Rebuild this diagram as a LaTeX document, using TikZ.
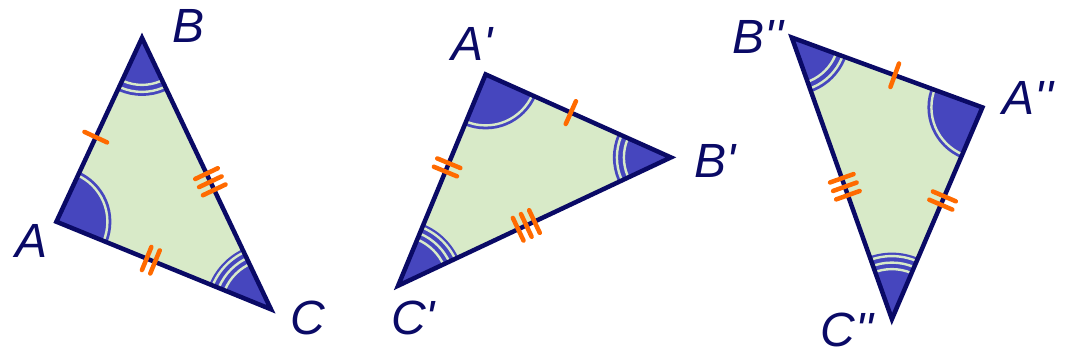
\documentclass[tikz,border=0pt]{standalone}
\usepackage{fontspec}
\newfontfamily\labfont{Liberation Sans}
\usetikzlibrary{calc}
\definecolor{navy}{HTML}{0A0A66}
\definecolor{mblue}{HTML}{4646BE}
\definecolor{lgreen}{HTML}{D8EAC8}
\definecolor{tickor}{HTML}{FF6A00}
\tikzset{
  tri/.style={draw=navy,line width=4.5pt,line join=miter},
  gapline/.style={draw=lgreen,line width=2.4pt},
  tickmark/.style={draw=tickor,line width=4.5pt,line cap=round},
  lab/.style={text=navy,font=\labfont\itshape\fontsize{48}{48}\selectfont,inner sep=0pt},
}
\newcommand\angmark[3]{%
  \fill[mblue] (#1) circle[radius=#2];
  \foreach \rr in {#3} {\draw[gapline] (#1) circle[radius=\rr];}
}
\newcommand\sidetick[4]{%
  \coordinate (tm) at ($(#1)!#3!(#2)$);
  \foreach \k in {1,...,#4} {
    \pgfmathsetmacro\off{(\k-1-(#4-1)/2)*9}
    \coordinate (tk) at ($(tm)!\off pt!(#2)$);
    \draw[tickmark] ($(tk)!12.5pt!90:(#2)$) -- ($(tk)!12.5pt!-90:(#2)$);
  }
}
\newcommand\mytriangle[3]{%
  \begin{scope}
    \clip (#1) -- (#2) -- (#3) -- cycle;
    \fill[lgreen] (#1) -- (#2) -- (#3) -- cycle;
    \angmark{#1}{55}{51}
    \angmark{#2}{58}{47,54}
    \angmark{#3}{66.5}{50,56.5,63}
  \end{scope}
  \draw[tri] (#1) -- (#2) -- (#3) -- cycle;
  \sidetick{#1}{#2}{0.46}{1}
  \sidetick{#1}{#3}{0.44}{2}
  \sidetick{#2}{#3}{0.53}{3}
}
\begin{document}
\begin{tikzpicture}[x=1pt,y=-1pt]
\useasboundingbox (0,0) rectangle (1065,356);
% triangle 1
\coordinate (A1) at (56.4,221.7);
\coordinate (B1) at (142,37.9);
\coordinate (C1) at (271,309.3);
% triangle 2
\coordinate (A2) at (485.6,74.4);
\coordinate (B2) at (670.9,157.4);
\coordinate (C2) at (398.1,285.7);
% triangle 3
\coordinate (A3) at (982.4,107.4);
\coordinate (B3) at (791.8,37.5);
\coordinate (C3) at (891.9,319.1);

\mytriangle{A1}{B1}{C1}
\mytriangle{A2}{B2}{C2}
\mytriangle{A3}{B3}{C3}

\node[lab] (lA1) at (32,241) {A};
\node[lab] (lB1) at (189,26) {B};
\node[lab] (lC1) at (308,318) {C};
\node[lab] (lA2) at (472,44) {A'};
\node[lab] (lB2) at (715,161) {B'};
\node[lab] (lC2) at (413,318) {C'};
\node[lab] (lB3) at (758,37) {B''};
\node[lab] (lA3) at (1028,98) {A''};
\node[lab] (lC3) at (847,330) {C''};
\end{tikzpicture}
\end{document}
